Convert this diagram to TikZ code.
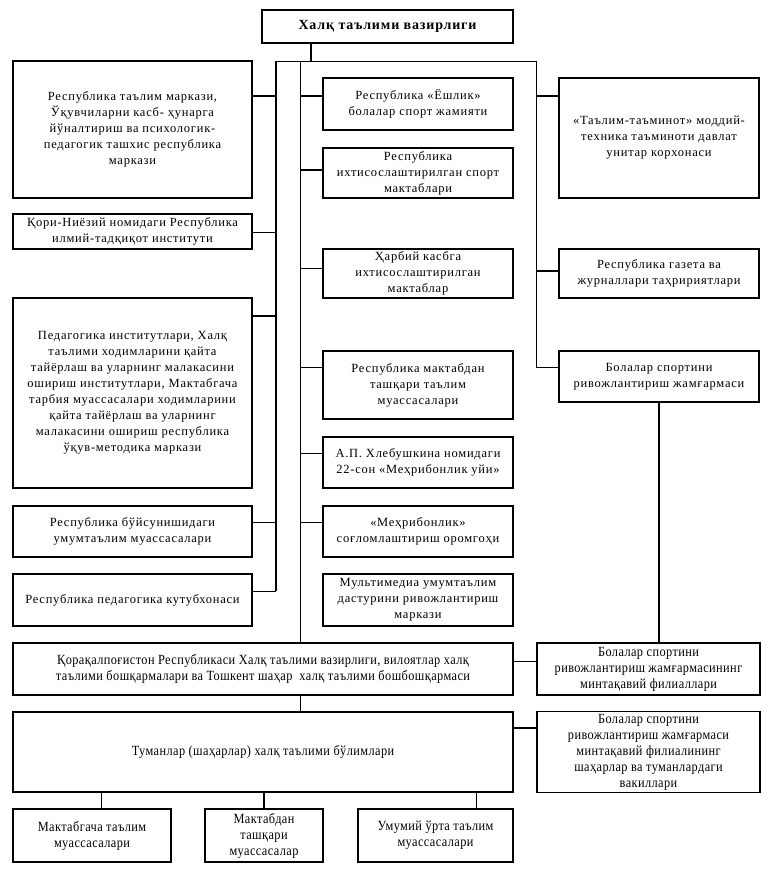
\documentclass[tikz,border=0pt]{standalone}
\usepackage{fontspec}
\setmainfont{Liberation Serif}
\newfontfamily\spfont{Liberation Serif}[LetterSpace=6]
\newfontfamily\condfont{Liberation Serif}[FakeStretch=0.88,LetterSpace=3]
\begin{document}
\begin{tikzpicture}[x=1pt,y=-1pt,
  box/.style={draw, line width=1.1pt, inner sep=2pt, align=center, font=\spfont\fontsize{12.5}{16}\selectfont},
  cbox/.style={box, font=\condfont\fontsize{14}{16}\selectfont},
  thinl/.style={line width=0.8pt},
  thickl/.style={line width=2.2pt}]
\useasboundingbox (0,0) rectangle (775,870);
% top
\node[box, minimum width=251pt, minimum height=33pt, font=\spfont\bfseries\fontsize{14}{16}\selectfont] (top) at (387.5,26.5) {Халқ таълими вазирлиги};
% left column
\node[box, minimum width=239pt, minimum height=137pt] (L1) at (132.5,129.5) {Республика таълим маркази,\\ Ўқувчиларни касб- ҳунарга\\ йўналтириш ва психологик-\\ педагогик ташхис республика\\ маркази};
\node[box, minimum width=239pt, minimum height=35pt] (L2) at (132.5,231.5) {Қори-Ниёзий номидаги Республика\\ илмий-тадқиқот институти};
\node[box, minimum width=239pt, minimum height=190pt] (L3) at (132.5,393) {Педагогика институтлари, Халқ\\ таълими ходимларини қайта\\ тайёрлаш ва уларнинг малакасини\\ ошириш институтлари, Мактабгача\\ тарбия муассасалари ходимларини\\ қайта тайёрлаш ва уларнинг\\ малакасини ошириш республика\\ ўқув-методика маркази};
\node[box, minimum width=239pt, minimum height=51pt] (L4) at (132.5,531.5) {Республика бўйсунишидаги\\ умумтаълим муассасалари};
\node[box, minimum width=239pt, minimum height=52pt] (L5) at (132.5,600) {Республика педагогика кутубхонаси};
% middle column
\node[box, minimum width=190pt, minimum height=52pt] (M1) at (418,104) {Республика «Ёшлик»\\ болалар спорт жамияти};
\node[box, minimum width=190pt, minimum height=50pt] (M2) at (418,173) {Республика\\ ихтисослаштирилган спорт\\ мактаблари};
\node[box, minimum width=190pt, minimum height=49pt] (M3) at (418,273.5) {Ҳарбий касбга\\ ихтисослаштирилган\\ мактаблар};
\node[box, minimum width=190pt, minimum height=68pt] (M4) at (418,385) {Республика мактабдан\\ ташқари таълим\\ муассасалари};
\node[box, minimum width=190pt, minimum height=51pt] (M5) at (418,462.5) {А.П. Хлебушкина номидаги\\ 22-сон «Меҳрибонлик уйи»};
\node[box, minimum width=190pt, minimum height=51pt] (M6) at (418,531.5) {«Меҳрибонлик»\\ соғломлаштириш оромгоҳи};
\node[box, minimum width=190pt, minimum height=52pt] (M7) at (418,600) {Мультимедиа умумтаълим\\ дастурини ривожлантириш\\ маркази};
% right column
\node[box, minimum width=200pt, minimum height=120pt] (R1) at (659,138) {«Таълим-таъминот» моддий-\\ техника таъминоти давлат\\ унитар корхонаси};
\node[box, minimum width=200pt, minimum height=49pt] (R2) at (659,273.5) {Республика газета ва\\ журналлари таҳририятлари};
\node[box, minimum width=200pt, minimum height=51pt] (R3) at (659,376.5) {Болалар спортини\\ ривожлантириш жамғармаси};
% bottom
\node[cbox, minimum width=500pt, minimum height=52pt] (Q) at (263,669) {Қорақалпоғистон Республикаси Халқ таълими вазирлиги, вилоятлар халқ\\ таълими бошқармалари ва Тошкент шаҳар\ \ халқ таълими бошбошқармаси};
\node[cbox, minimum width=223pt, minimum height=52pt] (F) at (648.5,669) {Болалар спортини\\ ривожлантириш жамғармасининг\\ минтақавий филиаллари};
\node[cbox, minimum width=500pt, minimum height=80pt] (T) at (263,752) {Туманлар (шаҳарлар) халқ таълими бўлимлари};
\node[cbox, minimum width=223pt, minimum height=80pt] (V) at (648.5,752) {Болалар спортини\\ ривожлантириш жамғармаси\\ минтақавий филиалининг\\ шаҳарлар ва туманлардаги\\ вакиллари};
\node[cbox, minimum width=158pt, minimum height=53pt] (B1) at (92,835.5) {Мактабгача таълим\\ муассасалари};
\node[cbox, minimum width=118pt, minimum height=53pt] (B2) at (264,835.5) {Мактабдан\\ ташқари\\ муассасалар};
\node[cbox, minimum width=155pt, minimum height=53pt] (B3) at (435.5,835.5) {Умумий ўрта таълим\\ муассасалари};
% junction coordinates
\coordinate (j) at (311,61);
\coordinate (bl) at (276,61);
\coordinate (bm) at (300,61);
\coordinate (br) at (536,61);
\coordinate (yL1) at (0,96);
\coordinate (yL2) at (0,232);
\coordinate (yL3) at (0,316);
\coordinate (yL4) at (0,522);
\coordinate (yL5) at (0,591);
\coordinate (yM2) at (0,170);
\coordinate (yM3) at (0,268);
\coordinate (yM4) at (0,367);
\coordinate (yM5) at (0,453);
\coordinate (yR2) at (0,271);
\coordinate (yQF) at (0,661);
\coordinate (yTV) at (0,728);
\coordinate (xB1) at (101,0);
\coordinate (xB3) at (476,0);
% connectors
\draw[thickl] (top.south -| j) -- (j);
\draw[thinl] (bl) -- (br);
\draw[thickl] (bl) -- (bl |- yL5);
\draw[thickl] (bl |- yL1) -- (L1.east |- yL1);
\draw[thinl] (bl |- yL2) -- (L2.east |- yL2);
\draw[thickl] (bl |- yL3) -- (L3.east |- yL3);
\draw[thinl] (bl |- yL4) -- (L4.east |- yL4);
\draw[thinl] (bl |- yL5) -- (L5.east |- yL5);
\draw[thinl] (bm) -- (bm |- Q.north);
\draw[thickl] (bm |- yL1) -- (M1.west |- yL1);
\draw[thickl] (bm |- yM2) -- (M2.west |- yM2);
\draw[thinl] (bm |- yM3) -- (M3.west |- yM3);
\draw[thinl] (bm |- yM4) -- (M4.west |- yM4);
\draw[thinl] (bm |- yM5) -- (M5.west |- yM5);
\draw[thinl] (bm |- yL4) -- (M6.west |- yL4);
\draw[thinl] (br) -- (br |- yM4) -- (R3.west |- yM4);
\draw[thickl] (br |- yL1) -- (R1.west |- yL1);
\draw[thickl] (br |- yR2) -- (R2.west |- yR2);
\draw[thickl] (R3.south) -- (F.north -| R3.south);
\draw[thinl] (Q.east |- yQF) -- (F.west |- yQF);
\draw[thinl] (Q.south -| bm) -- (T.north -| bm);
\draw[thickl] (T.east |- yTV) -- (V.west |- yTV);
\draw[thinl] (T.south -| xB1) -- (B1.north -| xB1);
\draw[thickl] (T.south -| B2.north) -- (B2.north);
\draw[thinl] (T.south -| xB3) -- (B3.north -| xB3);
\end{tikzpicture}
\end{document}
